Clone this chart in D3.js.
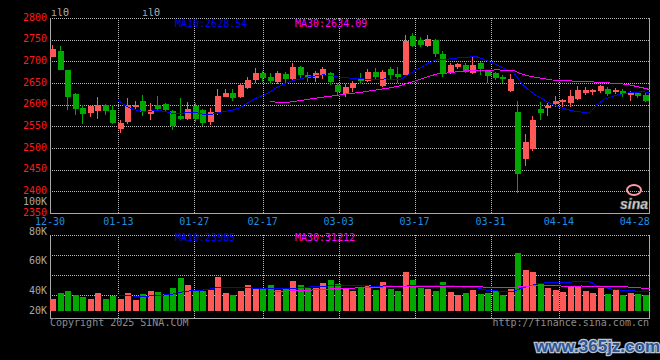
<!DOCTYPE html>
<html>
<head>
<meta charset="utf-8">
<script src="https://cdn.jsdelivr.net/npm/d3@7"></script>
<style>
  body { margin: 0; background: #000; }
  svg { display: block; }
  text { font-family: "DejaVu Sans Mono", monospace; font-size: 10px; }
</style>
</head>
<body>
<div id="chart"></div>
<script>
// trading days shown on the chart
var dates = ["12-30","12-31","01-02","01-03","01-06","01-07","01-08","01-09","01-10","01-13",
  "01-14","01-15","01-16","01-17","01-20","01-21","01-22","01-23","01-24","01-27",
  "02-05","02-06","02-07","02-10","02-11","02-12","02-13","02-14","02-17","02-18",
  "02-19","02-20","02-21","02-24","02-25","02-26","02-27","02-28","03-03","03-04",
  "03-05","03-06","03-07","03-10","03-11","03-12","03-13","03-14","03-17","03-18",
  "03-19","03-20","03-21","03-24","03-25","03-26","03-27","03-28","03-31","04-01",
  "04-02","04-03","04-07","04-08","04-09","04-10","04-11","04-14","04-15","04-16",
  "04-17","04-18","04-21","04-22","04-23","04-24","04-25","04-28","04-29","04-30"];

var opens = [2711,2724,2681,2625,2593,2581,2586,2600,2588,2545,
  2561,2594,2609,2578,2600,2602,2586,2575,2567,2596,
  2588,2561,2582,2619,2628,2619,2640,2655,2672,2665,
  2652,2670,2660,2686,2668,2660,2668,2672,2645,2625,
  2638,2662,2655,2676,2642,2683,2671,2669,2758,2750,
  2736,2750,2718,2673,2688,2692,2673,2695,2677,2673,
  2663,2632,2582,2475,2499,2591,2591,2600,2605,2604,
  2614,2627,2628,2630,2636,2629,2632,2624,2627,2623];

var highs = [2738,2736,2681,2627,2600,2599,2618,2602,2600,2565,
  2615,2609,2623,2605,2619,2605,2588,2615,2606,2605,
  2591,2592,2637,2636,2636,2650,2663,2685,2678,2672,
  2678,2676,2695,2690,2675,2678,2688,2676,2650,2648,
  2655,2672,2682,2684,2680,2688,2686,2760,2765,2757,
  2761,2752,2723,2696,2697,2697,2709,2699,2680,2676,
  2669,2671,2608,2532,2574,2606,2604,2621,2614,2634,
  2642,2640,2637,2646,2640,2638,2636,2632,2630,2626];

var lows = [2709,2679,2588,2577,2556,2572,2567,2577,2556,2535,
  2555,2588,2573,2564,2588,2584,2541,2565,2565,2561,
  2550,2554,2577,2617,2608,2615,2636,2650,2652,2648,
  2648,2650,2655,2660,2652,2652,2660,2645,2620,2618,
  2630,2648,2652,2658,2640,2658,2651,2669,2734,2734,
  2734,2711,2663,2671,2682,2674,2671,2668,2651,2658,
  2650,2630,2396,2459,2494,2565,2573,2595,2594,2594,
  2610,2622,2622,2626,2621,2624,2618,2609,2616,2606];

var closes = [2729,2681,2619,2591,2580,2597,2600,2586,2558,2558,
  2600,2599,2584,2587,2591,2588,2551,2568,2591,2567,
  2559,2584,2619,2628,2617,2646,2658,2672,2660,2655,
  2672,2658,2688,2668,2662,2672,2682,2652,2628,2640,
  2650,2655,2675,2664,2675,2669,2665,2748,2736,2738,
  2752,2718,2673,2691,2694,2677,2692,2682,2665,2662,
  2658,2659,2438,2515,2565,2582,2596,2608,2610,2621,
  2635,2634,2633,2642,2625,2634,2624,2628,2621,2608];

var volumes = [16000,22300,24000,20000,18300,16000,22300,16000,19000,16000,
  22300,15000,21000,24000,23300,21000,27300,37300,30000,25000,
  24000,25000,38300,22300,20000,24300,30000,25700,27300,30000,
  25000,26000,34000,30000,27300,26700,32300,35000,31000,26000,
  24000,28000,30000,25000,33000,26000,24000,43000,35000,27000,
  26000,24000,33000,23000,20000,22000,25000,21000,22000,24000,
  20000,26000,62000,45000,43000,32000,27000,25000,23000,28000,
  28000,24000,22000,27000,21000,25000,20000,22000,21000,20000];

var priceTicks = [2800,2750,2700,2650,2600,2550,2500,2450,2400,2350];
var volTicks = [80000,60000,40000,20000];
var dateTicks = ["12-30","01-13","01-27","02-17","03-03","03-17","03-31","04-14","04-28"];
var gridDates = ["01-13","01-27","02-17","03-03","03-17","03-31","04-14"];
var priceLegend = ["MA10:2628.54","MA30:2634.09"];
var volLegend = ["MA10:23985","MA30:31212"];

var svgWidth = 660;
var svgHeight = 360;
var left = 50, right = 650;
var priceTop = 18, priceBottom = 213;
var volTop = 235, volBottom = 318, volBase = 311;

var upColor = "#ff5858";
var downColor = "#00a800";
var ma10Color = "#0000ff";
var ma30Color = "#ff00ff";
var gridColor = "#b8b8b8";
var frameColor = "#a8a8a8";

var svg = d3.select("#chart")
  .append("svg")
  .attr("width", svgWidth)
  .attr("height", svgHeight)
  .style("background", "#000");

// Step 1: build rows and moving averages
function movingAverage(values, n) {
  return values.map(function(v, i) {
    if (i < n - 1) return null;
    return d3.mean(values.slice(i - n + 1, i + 1));
  });
}

var rows = dates.map(function(d, i) {
  return { date: d, open: opens[i], high: highs[i], low: lows[i], close: closes[i], volume: volumes[i] };
});

var ma10 = movingAverage(closes, 10);
var ma30 = movingAverage(closes, 30);
var vma10 = movingAverage(volumes, 10);
var vma30 = movingAverage(volumes, 30);

// Step 2: scales
var xBand = d3.scaleBand().domain(dates).range([left, right]).paddingInner(0.2).paddingOuter(0.1);
var xPoint = d3.scalePoint().domain(dates).range([left, right]);
var yPrice = d3.scaleLinear().domain([2350, 2800]).range([priceBottom, priceTop]);
var yVol = d3.scaleLinear().domain([0, 80000]).range([315, volTop]);
var yVolLabel = d3.scaleLinear().domain([80000, 40000]).range([231, 290]);

// Step 3: grid and frames
var grid = svg.append("g").attr("shape-rendering", "crispEdges");

grid.selectAll(".hgrid")
  .data(priceTicks.slice(0, -1))
  .enter()
  .append("line")
  .attr("x1", left).attr("x2", right)
  .attr("y1", d => Math.round(yPrice(d)) + 0.5)
  .attr("y2", d => Math.round(yPrice(d)) + 0.5)
  .attr("stroke", gridColor)
  .attr("stroke-dasharray", "1,1");

grid.selectAll(".vgridTop")
  .data(gridDates)
  .enter()
  .append("line")
  .attr("x1", d => Math.round(xPoint(d)) + 0.5)
  .attr("x2", d => Math.round(xPoint(d)) + 0.5)
  .attr("y1", priceTop).attr("y2", priceBottom)
  .attr("stroke", gridColor)
  .attr("stroke-dasharray", "1,1");

grid.selectAll(".vgridVol")
  .data(gridDates)
  .enter()
  .append("line")
  .attr("x1", d => Math.round(xPoint(d)) + 0.5)
  .attr("x2", d => Math.round(xPoint(d)) + 0.5)
  .attr("y1", volTop).attr("y2", volBottom)
  .attr("stroke", gridColor)
  .attr("stroke-dasharray", "1,1");

grid.selectAll(".hgridVol")
  .data(volTicks)
  .enter()
  .append("line")
  .attr("x1", left).attr("x2", right)
  .attr("y1", d => Math.round(yVol(d)) + 0.5)
  .attr("y2", d => Math.round(yVol(d)) + 0.5)
  .attr("stroke", gridColor)
  .attr("stroke-dasharray", "1,1");

[[priceTop, priceBottom], [volTop, volBottom]].forEach(function(p) {
  grid.append("path")
    .attr("d", `M${left + 0.5},${p[0]}V${p[1] + 0.5}H${right - 0.5}V${p[0]}`)
    .attr("fill", "none")
    .attr("stroke", frameColor);
});

// Step 4: volume bars
svg.append("g")
  .attr("shape-rendering", "crispEdges")
  .selectAll("rect")
  .data(rows)
  .enter()
  .append("rect")
  .attr("x", d => Math.floor(xBand(d.date)))
  .attr("width", Math.round(xBand.bandwidth()))
  .attr("y", d => Math.round(yVol(d.volume)))
  .attr("height", d => volBase - Math.round(yVol(d.volume)))
  .attr("fill", d => d.close >= d.open ? upColor : downColor);

// Step 5: candles
var candles = svg.append("g")
  .attr("shape-rendering", "crispEdges")
  .selectAll("g")
  .data(rows)
  .enter()
  .append("g")
  .attr("fill", d => d.close >= d.open ? upColor : downColor)
  .attr("stroke", d => d.close >= d.open ? upColor : downColor);

candles.append("line")
  .attr("x1", d => Math.floor(xBand(d.date)) + 2.5)
  .attr("x2", d => Math.floor(xBand(d.date)) + 2.5)
  .attr("y1", d => Math.round(yPrice(d.high)))
  .attr("y2", d => Math.round(yPrice(d.low)));

candles.append("rect")
  .attr("stroke", "none")
  .attr("x", d => Math.floor(xBand(d.date)))
  .attr("width", Math.round(xBand.bandwidth()))
  .attr("y", d => Math.round(yPrice(Math.max(d.open, d.close))))
  .attr("height", d => Math.max(1, Math.round(Math.abs(yPrice(d.open) - yPrice(d.close)))));

// Step 6: moving average lines
function drawLine(values, scale, color) {
  var line = d3.line()
    .defined(d => d != null)
    .x((d, i) => xPoint(dates[i]))
    .y(d => scale(d));
  svg.append("path")
    .datum(values)
    .attr("d", line)
    .attr("fill", "none")
    .attr("stroke", color)
    .attr("stroke-width", 1)
    .attr("shape-rendering", "crispEdges");
}
drawLine(ma10, yPrice, ma10Color);
drawLine(ma30, yPrice, ma30Color);
drawLine(vma10, yVol, ma10Color);
drawLine(vma30, yVol, ma30Color);

// Step 7: axis labels
svg.append("g").selectAll("text")
  .data(priceTicks)
  .enter()
  .append("text")
  .attr("x", 47)
  .attr("y", d => yPrice(d) + 2.5)
  .attr("text-anchor", "end")
  .attr("fill", "#ff1a1a")
  .text(d => d);

svg.append("g").selectAll("text")
  .data(volTicks)
  .enter()
  .append("text")
  .attr("x", 47)
  .attr("y", d => Math.min(yVolLabel(d), 310) + 3.5)
  .attr("text-anchor", "end")
  .attr("fill", "#a8a8a8")
  .text(d => (d / 1000) + "K");

svg.append("text")
  .attr("x", 47).attr("y", 204.5)
  .attr("text-anchor", "end")
  .attr("fill", "#a8a8a8")
  .text("100K");

svg.append("g").selectAll("text")
  .data(dateTicks)
  .enter()
  .append("text")
  .attr("x", d => xPoint(d))
  .attr("y", 225)
  .attr("text-anchor", "middle")
  .attr("fill", "#1e8ee6")
  .text(d => d);

// legends
svg.append("text").attr("x", 175).attr("y", 27).attr("fill", ma10Color).text(priceLegend[0]);
svg.append("text").attr("x", 295).attr("y", 27).attr("fill", ma30Color).text(priceLegend[1]);
svg.append("text").attr("x", 175).attr("y", 241).attr("fill", ma10Color).text(volLegend[0]);
svg.append("text").attr("x", 295).attr("y", 241).attr("fill", ma30Color).text(volLegend[1]);

svg.append("text").attr("x", 51).attr("y", 15.5).attr("fill", "#a8a8a8").text("ılΘ");
svg.append("text").attr("x", 142).attr("y", 15.5).attr("fill", "#a8a8a8").text("ılΘ");

svg.append("text").attr("x", 50).attr("y", 326).attr("fill", "#8c8c8c").text("Copyright 2025 SINA.COM");
svg.append("text").attr("x", 649).attr("y", 326).attr("text-anchor", "end").attr("fill", "#8c8c8c").text("http://finance.sina.com.cn");

// watermarks
svg.append("ellipse")
  .attr("cx", 634).attr("cy", 190).attr("rx", 7).attr("ry", 5)
  .attr("fill", "none").attr("stroke", "#ff9aa6").attr("stroke-width", 2);
svg.append("text")
  .attr("x", 620).attr("y", 209)
  .style("font-family", "Liberation Sans")
  .style("font-size", "14px")
  .style("font-weight", "bold")
  .style("font-style", "italic")
  .attr("fill", "#e0e0e0")
  .attr("stroke", "#777")
  .attr("stroke-width", 0.6)
  .text("sina");

svg.append("text")
  .attr("x", 535).attr("y", 352)
  .style("font-family", "Liberation Sans")
  .style("font-size", "17px")
  .style("font-weight", "bold")
  .attr("fill", "#2f5590")
  .attr("stroke", "#b8c4d8")
  .attr("stroke-width", 2.5)
  .attr("paint-order", "stroke")
  .text("www.365jz.com");
</script>
</body>
</html>
